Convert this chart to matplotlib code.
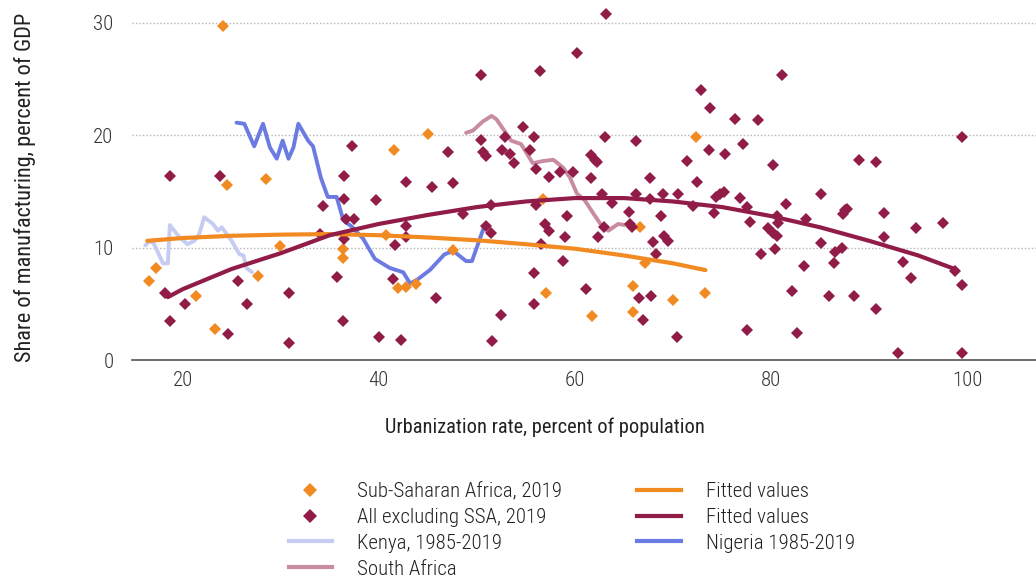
import matplotlib
matplotlib.use("Agg")
import matplotlib.pyplot as plt
from matplotlib.lines import Line2D

plt.rcParams["font.family"] = ["Roboto Condensed", "Liberation Sans Narrow", "Roboto", "DejaVu Sans"]
plt.rcParams["font.weight"] = 300

# Sub-Saharan Africa, 2019 (urbanization %, manufacturing % of GDP)
ssa_x = [24.1, 24.5, 28.5, 17.3, 16.6, 21.4, 23.3, 27.7, 29.9, 36.4, 36.4, 41.6, 45.0, 40.7,
         47.6, 42.0, 42.8, 43.8, 56.7, 57.0, 61.7, 65.9, 65.9, 66.6, 67.1, 70.0, 72.3, 73.3]
ssa_y = [29.7, 15.6, 16.1, 8.2, 7.0, 5.7, 2.8, 7.5, 10.1, 9.9, 9.1, 18.7, 20.1, 11.1,
         9.8, 6.4, 6.5, 6.8, 14.3, 6.0, 3.9, 6.6, 4.3, 11.8, 8.6, 5.3, 19.8, 6.0]

# All excluding SSA, 2019
oth_x = [18.7, 23.8, 18.2, 20.2, 18.7, 24.6, 25.7, 26.6, 30.8, 30.8, 34.3, 34.0, 36.5, 36.5,
         36.7, 37.5, 36.5, 35.7, 36.4, 37.3, 39.7, 40.0, 42.3, 42.8, 42.8, 42.8, 41.7, 41.4,
         45.4, 47.1, 47.6, 45.8, 48.6, 50.4, 50.4, 50.6, 50.9, 50.9, 51.4, 51.4, 51.5, 52.5,
         52.9, 52.6, 53.4, 53.8, 54.7, 55.8, 55.4, 56.4, 56.0, 57.4, 58.5, 59.8, 56.0, 56.9,
         57.4, 59.2, 59.0, 56.5, 58.8, 55.8, 55.8, 60.2, 63.2, 63.1, 66.2, 61.6, 62.0, 62.2,
         61.6, 67.6, 62.8, 63.8, 66.2, 67.6, 69.0, 70.5, 71.4, 72.4, 72.0, 72.9, 73.8, 73.7,
         76.3, 75.3, 77.1, 78.7, 81.1, 80.2, 74.4, 74.8, 75.2, 74.2, 76.8, 77.5, 77.8, 81.5,
         80.6, 80.7, 79.7, 80.2, 80.6, 80.4, 79.0, 83.4, 82.1, 82.6, 77.5, 70.4, 66.9, 66.5,
         67.8, 61.1, 65.6, 65.8, 65.5, 62.3, 63.0, 68.8, 68.0, 68.3, 69.1, 69.5, 99.5, 89.0,
         90.7, 85.1, 87.5, 87.7, 87.3, 91.5, 83.6, 97.5, 94.8, 91.5, 85.1, 87.2, 86.5, 86.4,
         93.4, 94.3, 98.7, 99.5, 85.9, 88.4, 90.7, 92.9, 99.5]
oth_y = [16.4, 16.4, 6.0, 5.0, 3.5, 2.3, 7.0, 5.0, 6.0, 1.5, 13.7, 11.2, 16.4, 14.3,
         12.5, 12.5, 10.8, 7.4, 3.5, 19.0, 14.2, 2.1, 1.8, 15.8, 11.9, 10.9, 10.2, 7.2,
         15.4, 18.5, 15.7, 5.5, 13.0, 25.3, 19.6, 18.5, 18.1, 11.9, 11.3, 13.8, 1.7, 4.0,
         19.8, 18.7, 18.3, 17.5, 20.7, 19.8, 18.7, 25.7, 17.0, 16.3, 16.7, 16.7, 13.8, 12.1,
         11.5, 12.8, 10.9, 10.3, 8.8, 7.7, 5.0, 27.3, 30.8, 19.8, 19.5, 18.2, 17.8, 17.6,
         16.2, 16.2, 14.8, 14.0, 14.8, 14.3, 14.8, 14.8, 17.7, 15.8, 13.7, 24.0, 22.4, 18.7,
         21.4, 18.3, 19.2, 21.3, 25.3, 17.3, 14.5, 14.8, 14.9, 13.1, 14.4, 13.6, 12.3, 13.9,
         12.8, 12.2, 11.7, 11.3, 11.0, 9.9, 9.4, 8.4, 6.1, 2.4, 2.7, 2.1, 3.6, 5.5,
         5.7, 6.3, 12.1, 11.8, 13.2, 10.9, 11.8, 12.8, 10.5, 9.4, 11.0, 10.6, 19.8, 17.8,
         17.6, 14.8, 13.3, 13.4, 13.0, 13.1, 12.5, 12.2, 11.7, 10.9, 10.4, 10.0, 9.6, 8.6,
         8.7, 7.3, 7.9, 6.7, 5.7, 5.7, 4.5, 0.6, 0.6]

# Fitted values
fit_ssa_x = [16.4, 20, 25, 30, 35, 40, 45, 50, 55, 60, 65, 70, 73.3]
fit_ssa_y = [10.6, 10.85, 11.05, 11.15, 11.2, 11.1, 10.9, 10.65, 10.3, 9.9, 9.3, 8.6, 8.0]
fit_oth_x = [18.5, 20, 25, 30, 35, 40, 45, 50, 55, 60, 65, 70, 75, 80, 85, 90, 95, 98.7]
fit_oth_y = [5.6, 6.3, 8.1, 9.5, 11.1, 12.1, 12.9, 13.6, 14.1, 14.4, 14.4, 14.1, 13.6,
             12.8, 11.8, 10.6, 9.3, 8.1]

# Country paths 1985-2019
kenya_x = [16.2, 16.7, 17.1, 18.0, 18.5, 18.7, 19.7, 20.5, 21.2, 21.7, 22.2, 23.1, 23.6,
           24.0, 25.0, 25.8, 26.2, 26.5, 27.1]
kenya_y = [10.2, 10.6, 10.3, 8.6, 8.6, 12.0, 10.9, 10.3, 10.6, 11.2, 12.7, 12.1, 11.5,
           11.8, 10.6, 9.4, 9.3, 8.2, 7.8]
nigeria_x = [25.5, 26.3, 27.3, 28.2, 28.9, 29.6, 30.2, 30.8, 31.3, 31.8, 32.8, 33.3, 34.1,
             34.8, 35.7, 36.4, 37.2, 38.4, 39.6, 41.1, 42.5, 43.2, 44.0, 45.2, 46.7, 47.6,
             48.9, 49.5, 50.8]
nigeria_y = [21.1, 21.0, 19.0, 21.0, 18.9, 17.9, 19.5, 17.9, 18.9, 21.0, 19.5, 19.0, 16.2,
             14.5, 14.5, 12.4, 11.9, 10.8, 9.0, 8.2, 7.8, 6.8, 7.2, 8.0, 9.4, 9.7,
             8.8, 8.8, 12.0]
sa_x = [48.9, 49.6, 50.6, 51.5, 52.0, 53.5, 54.5, 55.7, 56.8, 57.8, 58.8, 59.5, 60.2,
        61.0, 61.9, 62.6, 63.4, 64.4, 65.1]
sa_y = [20.2, 20.4, 21.2, 21.7, 21.4, 19.5, 19.2, 17.5, 17.7, 17.8, 17.1, 16.2, 14.8,
        14.2, 13.0, 12.1, 11.5, 12.1, 12.0]

C_SSA = "#f28a22"
C_OTH = "#911c48"
C_KEN = "#c6ccf1"
C_NIG = "#6b7be2"
C_SA = "#c98ba1"
C_TXT = "#222222"

fig = plt.figure(figsize=(10.36, 5.79), dpi=100)
ax = fig.add_axes([0.127, 0.378, 0.873, 0.622])

ax.plot(kenya_x, kenya_y, color=C_KEN, lw=2.8, solid_capstyle="round", zorder=2)
ax.plot(nigeria_x, nigeria_y, color=C_NIG, lw=2.8, solid_capstyle="round", zorder=2)
ax.plot(sa_x, sa_y, color=C_SA, lw=2.8, solid_capstyle="round", zorder=2)
ax.plot(ssa_x, ssa_y, "D", color=C_SSA, ms=6.5, mew=0, zorder=3)
ax.plot(oth_x, oth_y, "D", color=C_OTH, ms=6.5, mew=0, zorder=3)
ax.plot(fit_ssa_x, fit_ssa_y, color=C_SSA, lw=3, solid_capstyle="round", zorder=4)
ax.plot(fit_oth_x, fit_oth_y, color=C_OTH, lw=3, solid_capstyle="round", zorder=4)

ax.set_xlim(14.8, 107)
ax.set_ylim(0, 32)
ax.set_xticks([20, 40, 60, 80, 100])
ax.set_yticks([0, 10, 20, 30])
ax.grid(axis="y", color="#b5b5b5", ls=(0, (1, 1.5)), lw=1)
ax.set_axisbelow(True)
for s in ["top", "right", "left"]:
    ax.spines[s].set_visible(False)
ax.spines["bottom"].set_color("#555555")
ax.spines["bottom"].set_linewidth(1.2)
ax.tick_params(length=0, labelsize=15, colors="#333333", pad=8)
ax.tick_params(axis="y", pad=13)
ax.set_xlabel("Urbanization rate, percent of population", fontsize=14.7, color=C_TXT)
ax.xaxis.set_label_coords(0.457, -0.16)
ax.set_ylabel("Share of manufacturing, percent of GDP", fontsize=16, color=C_TXT)
ax.yaxis.set_label_coords(-0.106, 0.48)

handles = [
    Line2D([], [], ls="none", marker="D", color=C_SSA, ms=7, mew=0),
    Line2D([], [], ls="none", marker="D", color=C_OTH, ms=7, mew=0),
    Line2D([], [], color=C_KEN, lw=3),
    Line2D([], [], color=C_SA, lw=3),
    Line2D([], [], color=C_SSA, lw=3),
    Line2D([], [], color=C_OTH, lw=3),
    Line2D([], [], color=C_NIG, lw=3),
]
labels = ["Sub-Saharan Africa, 2019", "All excluding SSA, 2019", "Kenya, 1985-2019",
          "South Africa", "Fitted values", "Fitted values", "Nigeria 1985-2019"]
fig.legend(handles, labels, ncol=2, loc="upper center", bbox_to_anchor=(0.552, 0.2),
           frameon=False, fontsize=15, handlelength=2.1, columnspacing=3.6,
           labelspacing=0.33, handletextpad=1.2, labelcolor=C_TXT)

fig.savefig("out.png", dpi=100)
